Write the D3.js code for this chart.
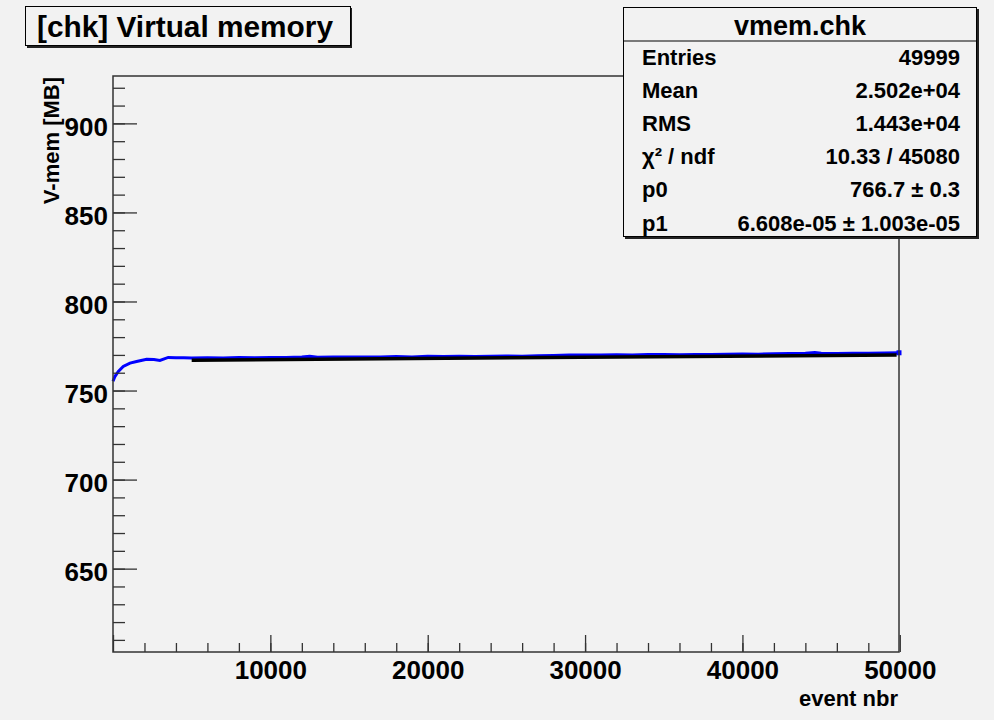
<!DOCTYPE html>
<html>
<head>
<meta charset="utf-8">
<script src="https://cdn.jsdelivr.net/npm/d3@7"></script>
<style>
  html, body { margin: 0; padding: 0; background: #f2f2f2; }
  svg { display: block; font-family: "Liberation Sans", Arial, Helvetica, sans-serif; font-weight: bold; }
</style>
</head>
<body>
<svg id="c" width="994" height="720"></svg>
<script>
// ---------------- data ----------------
const chartTitle = "[chk] Virtual memory";
const xTitle = "event nbr";
const yTitle = "V-mem [MB]";

// blue series: event number and virtual memory (MB)
const eventNbr = [0, 130, 340, 650, 1080, 1500, 2140, 2600, 2980, 3510, 4000, 4500,
  5000, 6000, 7000, 8000, 9000, 10000, 11000, 12000, 12500, 13000, 14000, 15000, 16000,
  17000, 18000, 19000, 20000, 21000, 22000, 23000, 24000, 25000, 26000, 27000, 28000,
  29000, 30000, 31000, 32000, 33000, 34000, 35000, 36000, 37000, 38000, 39000, 40000,
  41000, 42000, 43000, 44000, 44600, 45000, 46000, 47000, 48000, 49000, 49950];
const vmem = [755.2, 758.0, 760.7, 763.5, 765.4, 766.3, 767.6, 767.4, 766.9, 768.6, 768.4, 768.4,
  768.3, 768.4, 768.3, 768.5, 768.4, 768.6, 768.5, 768.9, 769.2, 768.7, 768.8, 768.8, 768.9,
  768.8, 769.1, 768.9, 769.2, 769.1, 769.2, 769.1, 769.3, 769.4, 769.3, 769.5, 769.7,
  770.0, 770.0, 769.9, 770.1, 770.0, 770.2, 770.2, 770.1, 770.3, 770.2, 770.4, 770.5,
  770.4, 770.7, 770.8, 771.0, 771.4, 770.9, 770.8, 771.0, 770.9, 771.1, 771.2];

// fitted line (pol1) end points
const fitX = [5000, 49800];
const fitY = [767.0, 770.0];

// axis ticks
const xMajor = [0, 10000, 20000, 30000, 40000, 50000];
const xMinor = d3.range(2000, 50000, 2000);
const yMajor = [650, 700, 750, 800, 850, 900];
const yMinor = d3.range(610, 930, 10);

// stats box
const statsTitle = "vmem.chk";
const statsLabels = ["Entries", "Mean", "RMS", "χ² / ndf", "p0", "p1"];
const statsValues = ["49999", "2.502e+04", "1.443e+04", "10.33 / 45080", "766.7 ± 0.3", "6.608e-05 ± 1.003e-05"];

// ---------------- layout ----------------
const svg = d3.select("#c");
const L = 113, R = 899, T = 76, B = 652;
const x = d3.scaleLinear().domain([0, 49950]).range([L, R]);
const y = d3.scaleLinear().domain([603.2, 926.6]).range([B, T]);

svg.append("rect").attr("width", 994).attr("height", 720).attr("fill", "#f2f2f2");

// data
const line = d3.line().x((d, i) => x(eventNbr[i])).y((d, i) => y(vmem[i]));
svg.append("path").datum(vmem).attr("d", line)
  .attr("fill", "none").attr("stroke", "#0000ff").attr("stroke-width", 3).attr("stroke-linejoin", "miter");
svg.append("rect").attr("x", x(eventNbr[eventNbr.length - 1]) - 2.5).attr("y", y(vmem[vmem.length - 1]) - 2.5)
  .attr("width", 5).attr("height", 5).attr("fill", "#0000ff");

const fitLine = d3.line().x((d, i) => x(fitX[i])).y((d, i) => y(fitY[i]));
svg.append("path").datum(fitY).attr("d", fitLine)
  .attr("fill", "none").attr("stroke", "#000").attr("stroke-width", 3.5);

// axes
const gx = svg.append("g").attr("transform", `translate(0,${B})`);
gx.call(d3.axisBottom(x).tickValues(xMinor).tickSize(-9).tickFormat(""));
gx.call(g => g.select(".domain").remove());
const gx2 = svg.append("g").attr("transform", `translate(0,${B})`);
gx2.call(d3.axisBottom(x).tickValues(xMajor).tickSize(-17).tickPadding(9)
  .tickFormat(d => d === 0 ? "" : d3.format("d")(d)));
gx2.call(g => g.select(".domain").remove());
gx2.selectAll("text").attr("font-size", 26).attr("font-family", "Liberation Sans, Arial, sans-serif")
  .attr("font-weight", "bold").attr("fill", "#000");

const gy = svg.append("g").attr("transform", `translate(${L},0)`);
gy.call(d3.axisLeft(y).tickValues(yMinor).tickSize(-12).tickFormat(""));
gy.call(g => g.select(".domain").remove());
const gy2 = svg.append("g").attr("transform", `translate(${L},0)`);
gy2.call(d3.axisLeft(y).tickValues(yMajor).tickSize(-24).tickPadding(5));
gy2.call(g => g.select(".domain").remove());
gy2.selectAll("text").attr("font-size", 26).attr("font-family", "Liberation Sans, Arial, sans-serif")
  .attr("font-weight", "bold").attr("fill", "#000").attr("dy", "0.45em");

svg.selectAll(".tick line").attr("stroke", "#333").attr("stroke-width", 1.3);

// frame
svg.append("rect").attr("x", L).attr("y", T).attr("width", R - L).attr("height", B - T)
  .attr("fill", "none").attr("stroke", "#333").attr("stroke-width", 1.5);

// axis titles
svg.append("text").attr("x", 898).attr("y", 706).attr("text-anchor", "end")
  .attr("font-size", 22).text(xTitle);
svg.append("text").attr("transform", "translate(59,77) rotate(-90)").attr("text-anchor", "end")
  .attr("font-size", 22).text(yTitle);

// title box
svg.append("rect").attr("x", 27).attr("y", 8).attr("width", 325).attr("height", 40).attr("fill", "#222");
svg.append("rect").attr("x", 25.5).attr("y", 6.5).attr("width", 325).attr("height", 39)
  .attr("fill", "#f2f2f2").attr("stroke", "#000").attr("stroke-width", 1);
svg.append("text").attr("x", 37).attr("y", 37).attr("font-size", 29)
  .attr("textLength", 296).attr("lengthAdjust", "spacingAndGlyphs").text(chartTitle);

// stats box
svg.append("rect").attr("x", 625).attr("y", 9).attr("width", 354).attr("height", 230).attr("fill", "#222");
svg.append("rect").attr("x", 623.5).attr("y", 7.5).attr("width", 353).attr("height", 229)
  .attr("fill", "#f2f2f2").attr("stroke", "#000").attr("stroke-width", 1);
svg.append("line").attr("x1", 623.5).attr("x2", 976.5).attr("y1", 41).attr("y2", 41)
  .attr("stroke", "#000").attr("stroke-width", 1);
svg.append("text").attr("x", 800).attr("y", 35).attr("text-anchor", "middle").attr("font-size", 27).text(statsTitle);
const rows = svg.append("g").selectAll("g").data(statsLabels).join("g");
rows.append("text").attr("x", 642).attr("y", (d, i) => 65 + i * 33.1).attr("font-size", 22).text(d => d);
rows.append("text").attr("x", 960).attr("y", (d, i) => 65 + i * 33.1).attr("text-anchor", "end")
  .attr("font-size", 22).text((d, i) => statsValues[i]);
</script>
</body>
</html>
